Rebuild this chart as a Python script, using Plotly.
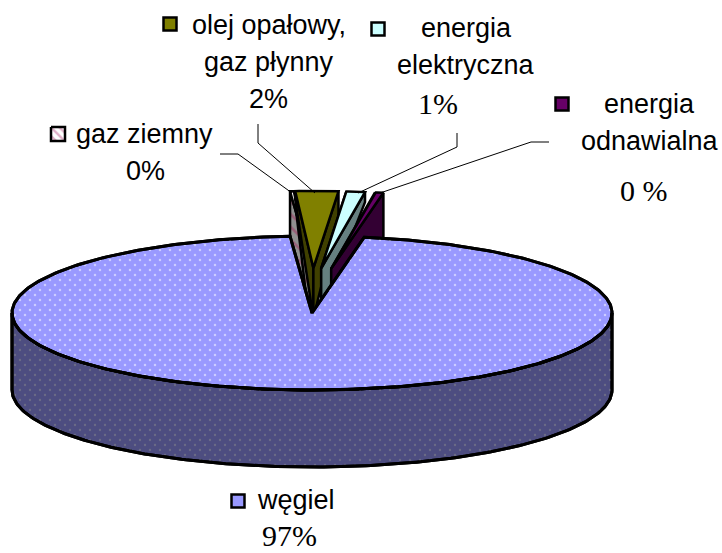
import numpy as np
import plotly.graph_objects as go

# ---- data ----
categories = ["węgiel", "gaz ziemny", "olej opałowy,<br>gaz płynny", "energia<br>elektryczna", "energia<br>odnawialna"]
drawn_shares = [96.05, 0.2, 2.3, 1.0, 0.45]
share_labels = ["97%", "0%", "2%", "1%", "0 %"]

# ---- styling ----
W, H, SHIFT = 722, 553, 5
TILE = 10
CX, CY, RX, RY, DEPTH = 312, 313, 300, 77, 77
START = -4.2
EXPLODE_Y = 45
TOP = {"węgiel": "#9999FF", "gaz": "#FFFFFF", "olej": "#808000", "elek": "#CCFFFF", "odn": "#660066"}
WALL = {"gaz": "#808080", "olej": "#404000", "elek": "#668080", "odn": "#330033"}
EXPLODE_X = {"gaz": 0, "olej": 120, "elek": 80, "odn": 120}
LEFT_RIM = {"gaz": 77, "olej": 8, "elek": 6, "odn": 30}
RIGHT_RIM = {"gaz": 0, "olej": 26, "elek": 10, "odn": 77}
APEX_DEPTH = {"gaz": 77, "olej": 50, "elek": 46, "odn": 77}
SANS, SERIF = "Liberation Sans", "Liberation Serif"
FS, FS_SERIF = 27, 30

def ell(theta, cx, cy):
    t = np.radians(theta)
    return cx + RX * np.sin(t), cy - RY * np.cos(t)

edges = START + np.cumsum([0] + [s * 3.6 for s in drawn_shares[1:]])
fig = go.Figure()

def poly(x, y, color, pattern=None, line=True, xa="x", ya="y", lw=3):
    kw = dict(fillpattern=pattern) if pattern else {}
    fig.add_trace(go.Scatter(x=list(x), y=list(y), mode="lines", fill="toself", fillcolor=color,
                             line=dict(color="black" if line else "rgba(0,0,0,0)", width=lw if line else 0),
                             hoverinfo="skip", showlegend=False, xaxis=xa, yaxis=ya, **kw))

# exploded small slices, left to right
keys = ["gaz", "olej", "elek", "odn"]
for i, k in enumerate(keys):
    a, b = edges[i], edges[i + 1]
    mid = np.radians((a + b) / 2)
    ax, ay = CX + EXPLODE_X[k] * np.sin(mid), CY - EXPLODE_Y * np.cos(mid)
    th = np.linspace(a, b, 12)
    rx, ry = ell(th, ax, ay)
    ad = APEX_DEPTH[k]
    wall_pat = dict(shape="\\", fgcolor="#A03060", bgcolor="#909090", size=9, solidity=0.3) if k == "gaz" else None
    top_pat = dict(shape="\\", fgcolor="#993366", bgcolor="#FFFFFF", size=9, solidity=0.3) if k == "gaz" else None
    poly([rx[0], rx[0], ax, ax, rx[0]], [ry[0], ry[0] + LEFT_RIM[k], ay + ad, ay, ry[0]], WALL[k], wall_pat, lw=2.5)
    poly([rx[-1], rx[-1], ax, ax, rx[-1]], [ry[-1], ry[-1] + RIGHT_RIM[k], ay + ad, ay, ry[-1]], WALL[k], wall_pat, lw=2.5)
    poly([ax, *rx, ax], [ay, *ry, ay], TOP[k], top_pat, lw=2.5)

# big slice
th = np.linspace(edges[-1], START + 360, 400)
fx, fy = ell(th, CX, CY)
front = np.linspace(90, 270, 200)
sx, sy = ell(front, CX, CY)
side_x = [*sx, *sx[::-1], sx[0]]
side_y = [*sy, *(sy[::-1] + DEPTH), sy[0]]
top_x = [CX, *fx, CX]
top_y = [CY, *fy, CY]
poly(side_x, side_y, "#4D4D80", dict(shape=".", fgcolor="#8A8A8A", bgcolor="#4D4D80", size=TILE, solidity=0.04))
poly(top_x, top_y, TOP["węgiel"], dict(shape=".", fgcolor="#FFFFFF", bgcolor="#9999FF", size=TILE, solidity=0.05))
# second dot lattice, offset by half a tile through a shifted axis pair
poly(side_x, side_y, "rgba(0,0,0,0)", dict(shape=".", fgcolor="#8A8A8A", bgcolor="rgba(0,0,0,0)", size=TILE, solidity=0.04), False, "x2", "y2")
poly(top_x, top_y, "rgba(0,0,0,0)", dict(shape=".", fgcolor="#FFFFFF", bgcolor="rgba(0,0,0,0)", size=TILE, solidity=0.05), False, "x2", "y2")
fig.add_trace(go.Scatter(x=side_x, y=side_y, mode="lines", line=dict(color="black", width=3), hoverinfo="skip", showlegend=False, xaxis="x2", yaxis="y2"))
fig.add_trace(go.Scatter(x=top_x, y=top_y, mode="lines", line=dict(color="black", width=3), hoverinfo="skip", showlegend=False, xaxis="x2", yaxis="y2"))

# leader lines
leaders = [([220, 238, 292], [154, 154, 193]), ([258, 258, 315], [124, 143, 193]),
           ([457, 457, 358], [133, 147, 193]), ([549, 531, 380], [142, 142, 193])]
for lx, ly in leaders:
    fig.add_trace(go.Scatter(x=lx, y=ly, mode="lines", line=dict(color="black", width=1), hoverinfo="skip", showlegend=False))

# legend keys
key_pos = [(238, 501, TOP["węgiel"]), (170, 24, TOP["olej"]), (378, 29, TOP["elek"]), (562, 104, TOP["odn"])]
for kx, ky, kc in key_pos:
    fig.add_trace(go.Scatter(x=[kx], y=[ky], mode="markers", marker=dict(symbol="square", size=13, color=kc, line=dict(color="black", width=2.5)),
                             hoverinfo="skip", showlegend=False, xaxis="x2", yaxis="y2"))
hk = 7
poly([58 - hk, 58 + hk, 58 + hk, 58 - hk, 58 - hk], [134 - hk, 134 - hk, 134 + hk, 134 + hk, 134 - hk], "#FFFFFF",
     dict(shape="\\", fgcolor="#C06090", bgcolor="#FFFFFF", size=6, solidity=0.4), True, "x2", "y2", 2.5)

# labels: line centres
label_lines = [([296], [500]), ([144], [134]), ([269, 269], [25, 62]), ([466, 466], [28, 65]), ([649, 650], [104, 141])]
label_pct = [(289, 535), (145, 171), (268, 99), (438, 103), (644, 190)]
serif_idx = {0, 3, 4}
for i, (xs, ys) in enumerate(label_lines):
    for line, tx, ty in zip(categories[i].split("<br>"), xs, ys):
        fig.add_annotation(x=tx, y=ty, text=line, showarrow=False, font=dict(family=SANS, size=FS, color="black"))
    px, py = label_pct[i]
    fig.add_annotation(x=px, y=py, text=share_labels[i], showarrow=False,
                       font=dict(family=SERIF if i in serif_idx else SANS, size=FS_SERIF if i in serif_idx else FS, color="black"))

dx, dy = SHIFT / W, SHIFT / H
fig.update_layout(
    width=W, height=H, margin=dict(l=0, r=0, t=0, b=0), paper_bgcolor="white", plot_bgcolor="rgba(0,0,0,0)",
    showlegend=False,
    xaxis=dict(domain=[0, 1 - dx], range=[0, W - SHIFT], visible=False),
    yaxis=dict(domain=[dy, 1], range=[H - SHIFT, 0], visible=False),
    xaxis2=dict(domain=[dx, 1], range=[SHIFT, W], visible=False, anchor="y2"),
    yaxis2=dict(domain=[0, 1 - dy], range=[H, SHIFT], visible=False, anchor="x2"),
)
fig.write_html("out.html", config=dict(displayModeBar=False), default_width=f"{W}px", default_height=f"{H}px",
               post_script="document.documentElement.style.overflow='hidden';document.body.style.margin='0';")
